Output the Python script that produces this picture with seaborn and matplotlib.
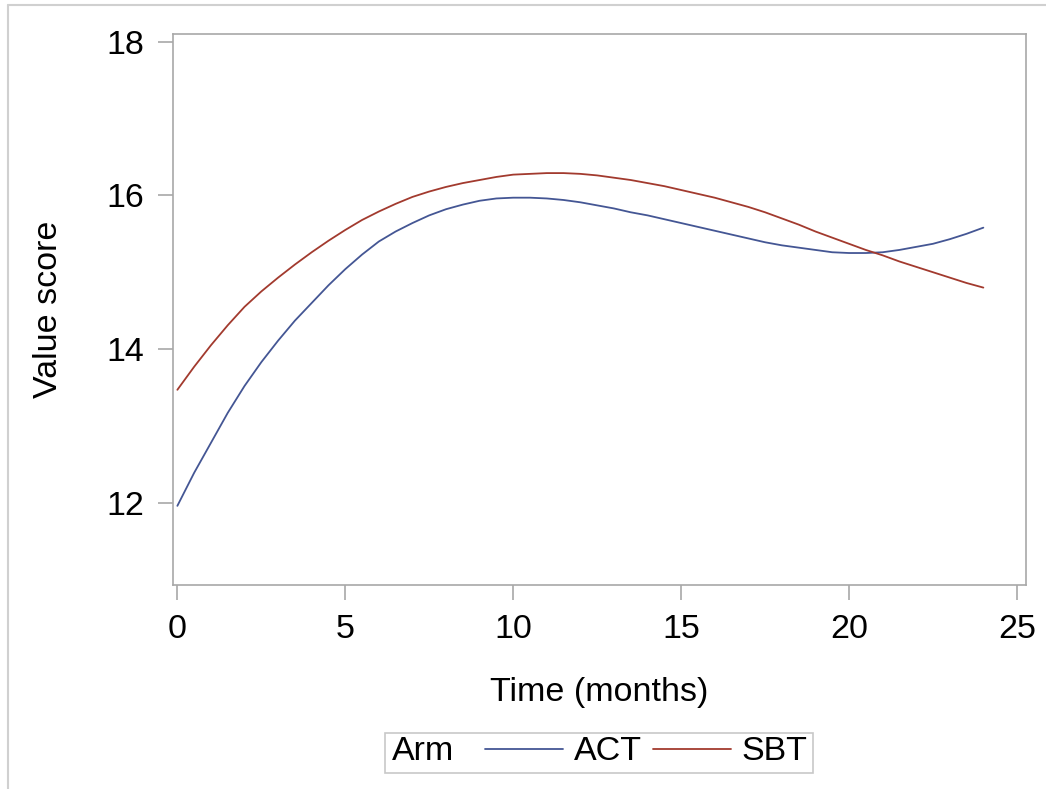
import matplotlib
matplotlib.use('Agg')
import matplotlib.pyplot as plt
from matplotlib.lines import Line2D
from matplotlib.patches import Rectangle
import seaborn as sns
import pandas as pd


months = [0, 0.5, 1, 1.5, 2, 2.5, 3, 3.5, 4, 4.5, 5, 5.5, 6, 6.5, 7, 7.5,
          8, 8.5, 9, 9.5, 10, 10.5, 11, 11.5, 12, 12.5, 13, 13.5, 14, 14.5,
          15, 15.5, 16, 16.5, 17, 17.5, 18, 18.5, 19, 19.5, 20, 20.5, 21,
          21.5, 22, 22.5, 23, 23.5, 24]
act = [11.96, 12.39, 12.78, 13.17, 13.52, 13.83, 14.11, 14.37, 14.60, 14.83,
       15.04, 15.23, 15.40, 15.53, 15.64, 15.74, 15.82, 15.88, 15.93, 15.96,
       15.97, 15.97, 15.96, 15.94, 15.91, 15.87, 15.83, 15.78, 15.74, 15.69,
       15.64, 15.59, 15.54, 15.49, 15.44, 15.39, 15.35, 15.32, 15.29, 15.26,
       15.25, 15.25, 15.26, 15.29, 15.33, 15.37, 15.43, 15.50, 15.58]
sbt = [13.47, 13.77, 14.05, 14.31, 14.55, 14.75, 14.93, 15.10, 15.26, 15.41,
       15.55, 15.68, 15.79, 15.89, 15.98, 16.05, 16.11, 16.16, 16.20, 16.24,
       16.27, 16.28, 16.29, 16.29, 16.28, 16.26, 16.23, 16.20, 16.16, 16.12,
       16.07, 16.02, 15.97, 15.91, 15.85, 15.78, 15.70, 15.62, 15.53, 15.45,
       15.37, 15.29, 15.22, 15.14, 15.07, 15.00, 14.93, 14.86, 14.80]
arms = ['ACT', 'SBT']
x_ticks = [0, 5, 10, 15, 20, 25]
y_ticks = [12, 14, 16, 18]

df = pd.DataFrame({
    'Time': months * 2,
    'Value': act + sbt,
    'Arm': ['ACT'] * len(months) + ['SBT'] * len(months),
})

sns.set_style('white')
plt.rcParams['font.family'] = ['Liberation Sans', 'DejaVu Sans']
plt.rcParams['text.color'] = 'black'
plt.rcParams['axes.labelcolor'] = 'black'

colors = {'ACT': '#445694', 'SBT': '#A23A2E'}
gray = '#a8a8a8'
fs = 24.5

fig = plt.figure(figsize=(10.46, 7.89), dpi=100)
ax = fig.add_axes([173 / 1046, 1 - 585 / 789, (1026 - 173) / 1046, (585 - 34) / 789])

sns.lineplot(data=df, x='Time', y='Value', hue='Arm', palette=colors,
             linewidth=1.3, legend=False, ax=ax)

ax.set_xlim(-0.13, 25.27)
ax.set_ylim(10.93, 18.10)
ax.set_xticks(x_ticks)
ax.set_yticks(y_ticks)
ax.set_xlabel('Time (months)', fontsize=fs, labelpad=23)
ax.set_ylabel('Value score', fontsize=fs, labelpad=30)
ax.tick_params(axis='both', labelsize=fs, length=11, width=1.2, color=gray,
               labelcolor='black', direction='out', pad=10,
               bottom=True, left=True)
for s in ax.spines.values():
    s.set_color(gray)
    s.set_linewidth(1.2)

# legend with inline title
handles = [Line2D([], [], color=colors[a], lw=1.3) for a in arms]
leg = fig.legend(handles, arms, ncol=2, loc='center left',
                 bbox_to_anchor=(485 / 1046, 1 - 752 / 789), frameon=False,
                 fontsize=fs, handlelength=2.3, handletextpad=0.3,
                 columnspacing=0.33, borderpad=0, borderaxespad=0)
fig.text(392 / 1046, 1 - 752 / 789, 'Arm', fontsize=fs, va='center', ha='left')
fig.patches.append(Rectangle((385 / 1046, 1 - 773 / 789), (813 - 385) / 1046,
                             40 / 789, transform=fig.transFigure, fill=False,
                             edgecolor='#c8c8c8', lw=1.2))

# outer border (left and top visible)
fig.add_artist(Line2D([8 / 1046, 8 / 1046], [0, 1 - 5 / 789],
                      transform=fig.transFigure, color='#d0d0d0', lw=1.5))
fig.add_artist(Line2D([8 / 1046, 1], [1 - 5 / 789, 1 - 5 / 789],
                      transform=fig.transFigure, color='#d0d0d0', lw=1.5))

fig.savefig('out.png', dpi=100)
